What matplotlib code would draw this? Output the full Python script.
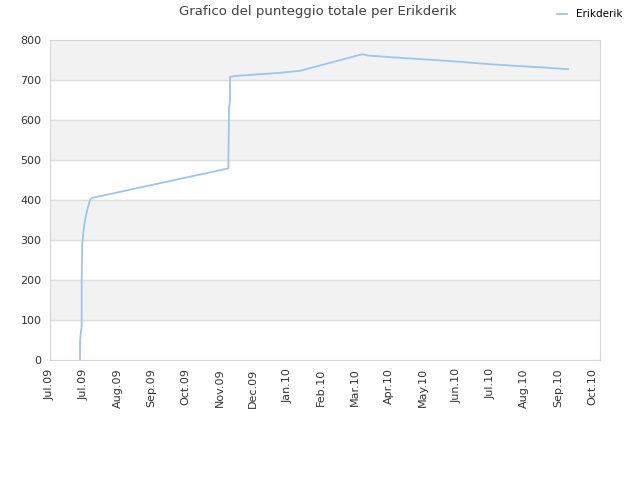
import matplotlib
matplotlib.use('Agg')
import matplotlib.pyplot as plt
import matplotlib.dates as mdates
import pandas as pd

# punteggio totale
dates = ['2009-07-27 14:00', '2009-07-27 14:00', '2009-07-28 12:00', '2009-07-29 02:00',
         '2009-07-29 02:00', '2009-07-29 14:00', '2009-07-31 02:00', '2009-08-01 14:00',
         '2009-08-03 00:00', '2009-08-05 10:00', '2009-08-06 22:00', '2009-12-05 22:00',
         '2009-12-06 12:00', '2009-12-07 10:00', '2009-12-07 10:00', '2009-12-11 19:00',
         '2010-01-20 17:00', '2010-02-07 10:00', '2010-04-01 12:00', '2010-04-04 05:00',
         '2010-04-08 22:00', '2010-05-04 00:00', '2010-06-01 00:00', '2010-06-27 00:00',
         '2010-07-23 00:00', '2010-08-19 00:00', '2010-09-13 00:00', '2010-10-02 17:00']
score = [0, 46, 75, 83, 200, 292, 333, 358, 375, 400, 405, 479,
         633, 646, 708, 710, 718, 723, 763, 764,
         761, 756, 751, 746, 740, 735, 731, 727]

x_start = pd.Timestamp('2009-07-01')
x_end = x_start + pd.Timedelta(days=487)
tick_dates = pd.date_range(x_start, periods=17, freq='30D')

fig = plt.figure(figsize=(6.4, 4.8), dpi=100)
ax = fig.add_axes([50 / 640, 120 / 480, 550 / 640, 320 / 480])

for lo in range(100, 800, 200):
    ax.axhspan(lo, lo + 100, color='#f2f2f2', zorder=0)
for y in range(100, 800, 100):
    ax.axhline(y, color='#dedede', lw=1, zorder=1)

ax.plot(pd.to_datetime(dates), score, color='#99c6f3', lw=1.3, label='Erikderik', zorder=3)

ax.set_xlim(x_start, x_end)
ax.set_ylim(0, 800)
ax.set_yticks(range(0, 801, 100))
ax.set_xticks(tick_dates)
ax.xaxis.set_major_formatter(mdates.DateFormatter('%b.%y'))
plt.setp(ax.get_xticklabels(), rotation=90)
ax.tick_params(axis='both', length=0, labelsize=8, labelcolor='#333333', pad=6)

for s in ax.spines.values():
    s.set_color('#d6d6d6')

fig.suptitle('Grafico del punteggio totale per Erikderik', x=0.497, y=0.99,
             fontsize=9.5, color='#404040')
fig.legend(loc='upper right', bbox_to_anchor=(0.988, 1.0), frameon=False,
           fontsize=7.5, handlelength=1.0, handletextpad=0.9)

fig.savefig('out.png', dpi=100)
